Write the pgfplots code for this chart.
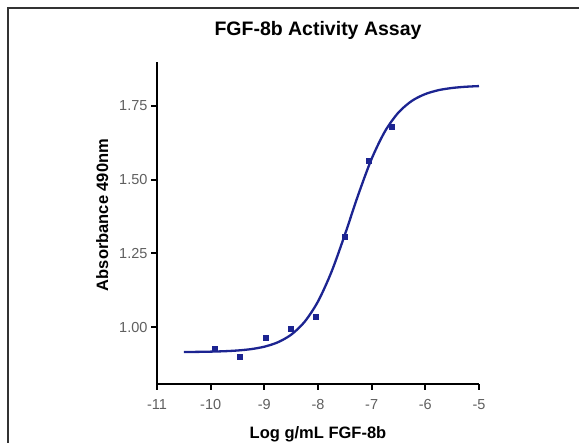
\documentclass[border=0pt]{standalone}
\usepackage{pgfplots}
\pgfplotsset{compat=1.18}
\usepackage{fontspec}
\setmainfont{Liberation Sans}
\definecolor{curve}{RGB}{28,36,145}
\definecolor{ticktext}{RGB}{95,95,95}

\begin{document}
\begin{tikzpicture}
\useasboundingbox (0pt,0pt) rectangle (579pt,443pt);
\draw[line width=1.5pt,black!80] (8pt,0pt) -- (8pt,435pt) -- (579pt,435pt);
\begin{axis}[
    at={(157pt,59pt)}, anchor=south west,
    scale only axis,
    width=322pt, height=322pt,
    xmin=-11, xmax=-5,
    ymin=0.807, ymax=1.899,
    axis x line=bottom, axis y line=left,
    axis line style={-, line width=1.9pt},
    xtick={-11,-10,...,-5},
    ytick={1.00,1.25,1.50,1.75},
    yticklabel style={/pgf/number format/.cd, fixed, fixed zerofill, precision=2},
    /pgf/number format/assume math mode=true,
    tick style={black, line width=1.9pt},
    tick align=outside,
    major tick length=6pt,
    ticklabel style={font=\fontsize{14.5}{14.5}\selectfont, text=ticktext},
    xticklabel style={yshift=-6pt},
    title={\bfseries FGF-8b Activity Assay},
    title style={font=\fontsize{19.5}{19.5}\selectfont, at={(axis description cs:0.5,1)}, yshift=13pt},
    xlabel={\bfseries Log g/mL FGF-8b},
    ylabel={\bfseries Absorbance 490nm},
    label style={font=\fontsize{16.5}{16.5}\selectfont},
    xlabel style={yshift=-10pt},
    ylabel style={yshift=4pt, xshift=8pt},
    clip=false,
]
% fitted curve
\addplot[curve, line width=2.3pt, smooth] coordinates {
(-10.5,0.9155) (-10.25,0.9159) (-10,0.9167) (-9.75,0.9181) (-9.5,0.9206)
(-9.25,0.9252) (-9,0.9335) (-8.75,0.9483) (-8.5,0.9742) (-8.25,1.0178)
(-8,1.0869) (-7.75,1.1867) (-7.5,1.313) (-7.25,1.4486) (-7,1.5708)
(-6.75,1.6644) (-6.5,1.7278) (-6.25,1.7672) (-6,1.7903) (-5.75,1.8036)
(-5.5,1.8109) (-5.25,1.8150) (-5,1.8173)
};
% measured points
\addplot[only marks, mark=square*, mark size=2.5pt, curve] coordinates {
(-9.93,0.925) (-9.45,0.898) (-8.97,0.963) (-8.50,0.993) (-8.04,1.034)
(-7.50,1.305) (-7.05,1.563) (-6.62,1.680)
};
\end{axis}
\end{tikzpicture}
\end{document}
